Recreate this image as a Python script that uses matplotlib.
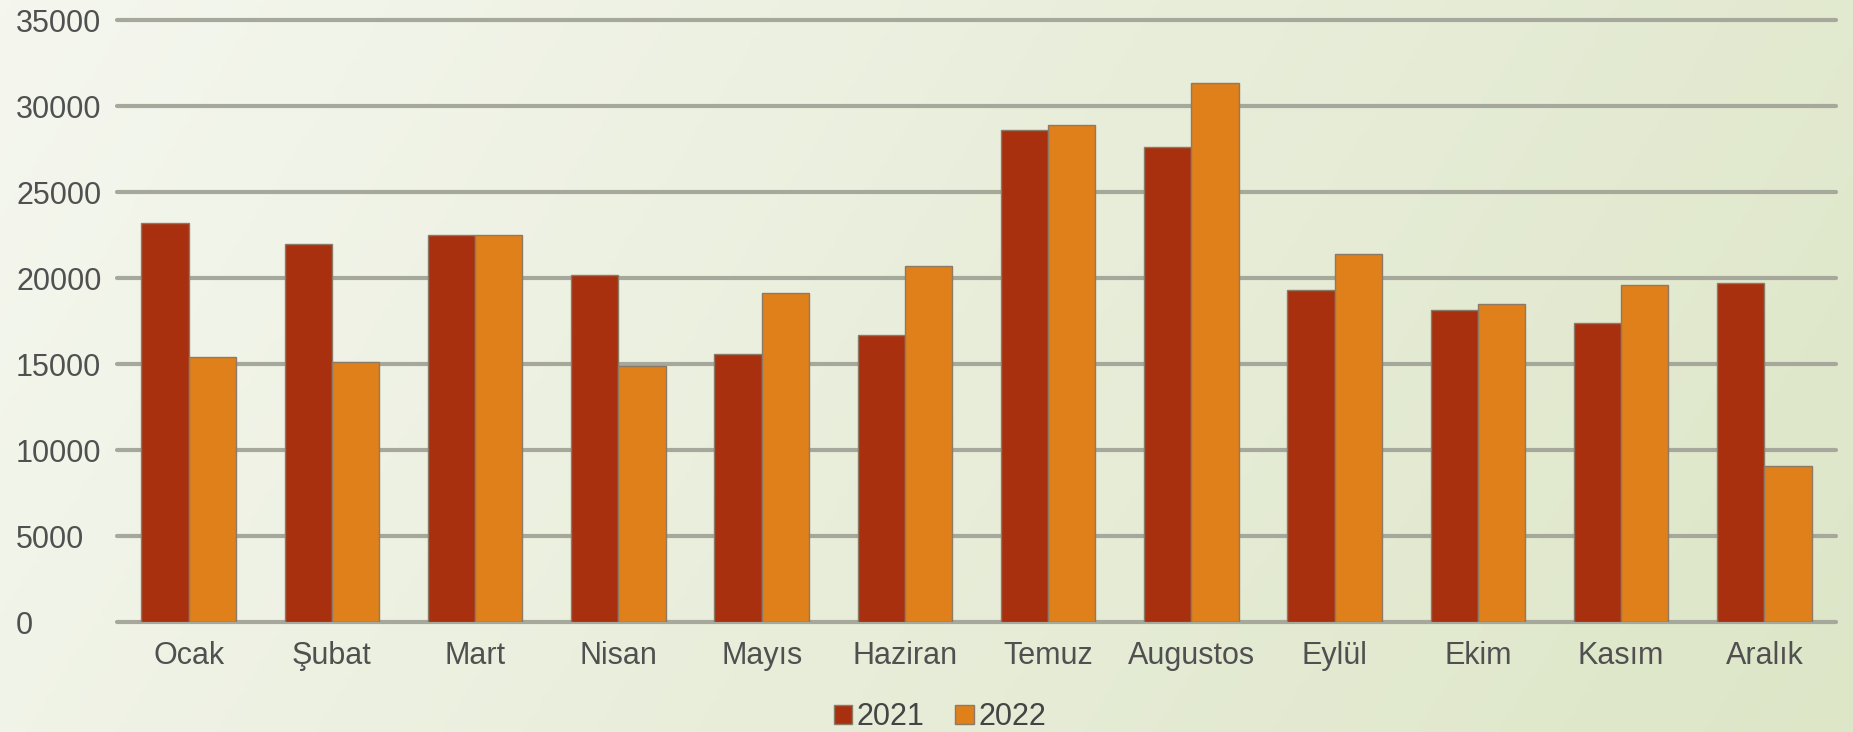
import numpy as np
import matplotlib
matplotlib.use("Agg")
import matplotlib.pyplot as plt
from matplotlib.colors import LinearSegmentedColormap

# month labels and values
months = ["Ocak", "Şubat", "Mart", "Nisan", "Mayıs", "Haziran",
          "Temuz", "Augustos", "Eylül", "Ekim", "Kasım", "Aralık"]
vals_2021 = [23200, 21950, 22500, 20150, 15600, 16700,
             28600, 27630, 19300, 18150, 17400, 19700]
vals_2022 = [15400, 15100, 22500, 14900, 19100, 20700,
             28880, 31320, 21400, 18500, 19600, 9090]
series_names = ["2021", "2022"]
yticks = [0, 5000, 10000, 15000, 20000, 25000, 30000, 35000]

plt.rcParams['font.family'] = ['Liberation Sans', 'DejaVu Sans']

fig = plt.figure(figsize=(18.53, 7.32), dpi=100)

# soft diagonal gradient behind everything
bg = fig.add_axes([0, 0, 1, 1], zorder=-10)
gx, gy = np.meshgrid(np.linspace(0, 1, 400), np.linspace(0, 1, 160))
grad = 0.8 * gx + 0.2 * gy
cmap = LinearSegmentedColormap.from_list("bg", ["#f5f7ef", "#e9eedb", "#dde6c7"])
bg.imshow(grad, cmap=cmap, aspect='auto', extent=[0, 1, 0, 1], origin='upper')
bg.axis('off')

ax = fig.add_axes([117 / 1853, 1 - 622 / 732, (1836 - 117) / 1853, (622 - 20) / 732])
ax.patch.set_alpha(0)

x = np.arange(len(months))
w = 0.33
ax.bar(x - w / 2, vals_2021, w, color="#a8300f", edgecolor="#8c7a66", linewidth=1, zorder=3, label=series_names[0])
ax.bar(x + w / 2, vals_2022, w, color="#e0801a", edgecolor="#8c7a66", linewidth=1, zorder=3, label=series_names[1])

ax.set_xlim(-0.5, len(months) - 0.5)
ax.set_ylim(0, 35000)
ax.set_yticks(yticks)
ax.set_yticklabels([str(v) for v in yticks])
ax.set_xticks(x)
ax.set_xticklabels(months)

ax.yaxis.grid(True, color="#a6a89b", linewidth=3, zorder=0)
ax.set_axisbelow(True)
for gl in ax.get_ygridlines():
    gl.set_clip_on(False)
    gl.set_solid_capstyle('round')
for s in ax.spines.values():
    s.set_visible(False)

ax.tick_params(axis='both', length=0, labelsize=22, labelcolor="#505050")
ax.tick_params(axis='y', pad=72.7)
for lbl in ax.get_yticklabels():
    lbl.set_horizontalalignment('left')
ax.tick_params(axis='x', pad=14)

leg = fig.legend(loc='center', bbox_to_anchor=(940 / 1853, 1 - 717 / 732), ncol=2, frameon=False,
                 fontsize=22, handlelength=0.6, handleheight=0.6, handletextpad=0.15,
                 columnspacing=1.0, labelcolor="#444444")

fig.savefig("out.png", dpi=100)
